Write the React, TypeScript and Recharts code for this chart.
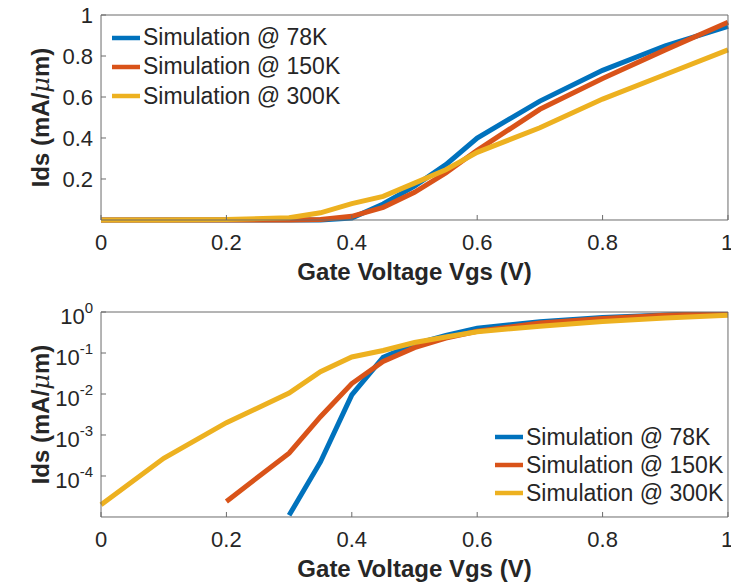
import React from "react";
import { LineChart, Line, XAxis, YAxis, Legend, Label } from "recharts";

// gate voltage sweep (V)
const vgs = [0, 0.1, 0.2, 0.3, 0.35, 0.4, 0.45, 0.5, 0.55, 0.6, 0.7, 0.8, 0.9, 1.0];
// drain current (mA/um), 0 = below the simulator floor
const ids78K = [0, 0, 0, 1.1e-5, 2.2e-4, 0.0095, 0.078, 0.165, 0.27, 0.4, 0.58, 0.73, 0.85, 0.945];
const ids150K = [0, 0, 2.4e-5, 3.6e-4, 2.8e-3, 0.018, 0.062, 0.135, 0.23, 0.34, 0.54, 0.69, 0.83, 0.965];
const ids300K = [2e-5, 2.7e-4, 2e-3, 0.0105, 0.035, 0.08, 0.115, 0.18, 0.245, 0.33, 0.45, 0.59, 0.71, 0.83];

const seriesNames = ["Simulation @ 78K", "Simulation @ 150K", "Simulation @ 300K"];
const seriesColors = ["#0072BD", "#D95319", "#EDB120"];

const xTicks = [0, 0.2, 0.4, 0.6, 0.8, 1];
const linTicks = [0.2, 0.4, 0.6, 0.8, 1];
const linMinorTicks = [0.05, 0.1, 0.15, 0.25, 0.3, 0.35, 0.45, 0.5, 0.55, 0.65, 0.7, 0.75, 0.85, 0.9, 0.95];
const logTicks = [1e-4, 1e-3, 1e-2, 1e-1, 1];
const logDecades = [1e-5, 1e-4, 1e-3, 1e-2, 1e-1];
const logMantissas = [2, 3, 4, 5, 6, 7, 8, 9];
const logMinorTicks = logDecades.flatMap((d) => logMantissas.map((m) => m * d));

const FONT = "'Liberation Sans', Arial, Helvetica, sans-serif";
const TEXT = "#262626";
const AXIS = "#6b6b6b";
const THIN = 0.01; // axes take no room, the margins set the plot box
const LW = 5;

const series = [ids78K, ids150K, ids300K];
const linData = vgs.map((v, i) => ({ v, s0: series[0][i], s1: series[1][i], s2: series[2][i] }));
const logData = vgs.map((v, i) => ({
  v,
  s0: series[0][i] > 0 ? series[0][i] : null,
  s1: series[1][i] > 0 ? series[1][i] : null,
  s2: series[2][i] > 0 ? series[2][i] : null,
}));

const XTick = (p: any) => (
  <text x={p.x} y={p.y + 30} textAnchor="middle" fontSize={22} fill={TEXT} fontFamily={FONT}>
    {p.payload.value}
  </text>
);

const LinTick = (p: any) => (
  <text x={p.x} y={p.y + 8} textAnchor="end" fontSize={22} fill={TEXT} fontFamily={FONT}>
    {p.payload.value}
  </text>
);

const LogTick = (p: any) => {
  const exp = Math.round(Math.log10(p.payload.value));
  return (
    <text x={p.x} y={p.y + 12} textAnchor="end" fontSize={22} fill={TEXT} fontFamily={FONT}>
      <tspan>10</tspan>
      <tspan dy={-11} fontSize={15}>{exp < 0 ? "-" + Math.abs(exp) : exp}</tspan>
    </text>
  );
};

const XLabel = (p: any) => {
  const vb = p.viewBox;
  return (
    <text x={vb.x + vb.width / 2} y={vb.y + 60} textAnchor="middle" fontSize={24} fontWeight="bold" fill={TEXT} fontFamily={FONT}>
      Gate Voltage Vgs (V)
    </text>
  );
};

const YLabel = (p: any) => {
  const vb = p.viewBox;
  const cy = vb.y + vb.height / 2;
  return (
    <text transform={`translate(${vb.x - 52}, ${cy}) rotate(-90)`} textAnchor="middle" fontSize={24} fontWeight="bold" fill={TEXT} fontFamily={FONT}>
      Ids (mA/<tspan fontStyle="italic" fontWeight="normal" fontFamily="'DejaVu Serif', serif">μ</tspan>m)
    </text>
  );
};

const makeLegend = (rowH: number) => (props: any) => {
  const items = [...(props.payload || [])].sort(
    (a: any, b: any) => seriesNames.indexOf(a.value) - seriesNames.indexOf(b.value)
  );
  return (
    <div style={{ fontFamily: FONT, fontSize: 23, color: TEXT }}>
      {items.map((e: any) => (
        <div key={e.value} style={{ display: "flex", alignItems: "center", height: rowH, whiteSpace: "nowrap" }}>
          <svg width={28} height={6} style={{ display: "block" }}>
            <line x1={0} y1={3} x2={28} y2={3} stroke={e.color} strokeWidth={4.5} />
          </svg>
          <span style={{ marginLeft: 3 }}>{e.value}</span>
        </div>
      ))}
    </div>
  );
};

function Frame(props: { log: boolean }) {
  const { log } = props;
  const yDomain = log ? [1e-5, 1] : [0, 1];
  const major = log ? logTicks : linTicks;
  const minor = log ? logMinorTicks : linMinorTicks;
  const scale = log ? "log" : "linear";
  return [
    <XAxis key="xb" xAxisId="b" dataKey="v" type="number" domain={[0, 1]} ticks={xTicks} height={THIN}
      tickSize={-5} tickMargin={5} tick={<XTick />} stroke={AXIS} tickLine={{ stroke: AXIS }} axisLine={{ stroke: AXIS }}>
      <Label content={<XLabel />} />
    </XAxis>,
    <XAxis key="xt" xAxisId="t" orientation="top" dataKey="v" type="number" domain={[0, 1]} ticks={xTicks} height={THIN}
      allowDataOverflow tickSize={-5} tick={false} tickLine={{ stroke: AXIS }} axisLine={{ stroke: AXIS }} />,
    <YAxis key="yl" yAxisId="l" type="number" scale={scale} domain={yDomain} ticks={major} width={THIN}
      allowDataOverflow={log} tickSize={-5} tickMargin={13} tick={log ? <LogTick /> : <LinTick />}
      tickLine={{ stroke: AXIS }} axisLine={{ stroke: AXIS }}>
      <Label content={<YLabel />} />
    </YAxis>,
    <YAxis key="ylm" yAxisId="lm" type="number" scale={scale} domain={yDomain} ticks={minor} width={THIN}
      allowDataOverflow tickSize={-3} tick={false} tickLine={{ stroke: AXIS }} axisLine={false} />,
    <YAxis key="yr" yAxisId="r" orientation="right" type="number" scale={scale} domain={yDomain} ticks={major} width={THIN}
      allowDataOverflow tickSize={-5} tick={false} tickLine={{ stroke: AXIS }} axisLine={{ stroke: AXIS }} />,
    <YAxis key="yrm" yAxisId="rm" orientation="right" type="number" scale={scale} domain={yDomain} ticks={minor} width={THIN}
      allowDataOverflow tickSize={-3} tick={false} tickLine={{ stroke: AXIS }} axisLine={false} />,
  ];
}

export default function App() {
  return (
    <div style={{ position: "absolute", left: 0, top: 0, width: 731, height: 583, background: "#fff" }}>
      <LineChart width={731} height={290} data={linData} margin={{ top: 15, right: 3, bottom: 70, left: 101 }}>
        {Frame({ log: false })}
        {seriesNames.map((n, i) => (
          <Line key={n} xAxisId="b" yAxisId="l" dataKey={"s" + i} name={n} stroke={seriesColors[i]}
            strokeWidth={LW} dot={false} isAnimationActive={false} type="linear" />
        ))}
        <Legend layout="vertical" align="center" verticalAlign="middle" content={makeLegend(29.3)}
          wrapperStyle={{ left: 112, top: 23, width: "auto" }} />
      </LineChart>
      <LineChart width={731} height={293} data={logData} margin={{ top: 22, right: 3, bottom: 66, left: 101 }}>
        {Frame({ log: true })}
        {seriesNames.map((n, i) => (
          <Line key={n} xAxisId="b" yAxisId="l" dataKey={"s" + i} name={n} stroke={seriesColors[i]}
            strokeWidth={LW} dot={false} isAnimationActive={false} type="linear" connectNulls={false} />
        ))}
        <Legend layout="vertical" align="center" verticalAlign="middle" content={makeLegend(28.2)}
          wrapperStyle={{ left: 495, top: 133, width: "auto" }} />
      </LineChart>
    </div>
  );
}
